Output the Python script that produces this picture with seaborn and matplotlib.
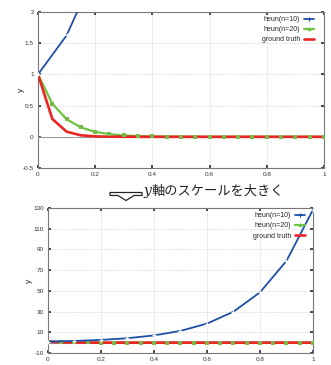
import numpy as np
import pandas as pd
import matplotlib
matplotlib.use("Agg")
import matplotlib.pyplot as plt
from matplotlib.patches import Polygon
import seaborn as sns

# x positions
x_n10 = [0.0, 0.1, 0.2, 0.3, 0.4, 0.5, 0.6, 0.7, 0.8, 0.9, 1.0]
x_n20 = [0.0, 0.05, 0.1, 0.15, 0.2, 0.25, 0.3, 0.35, 0.4, 0.45, 0.5,
         0.55, 0.6, 0.65, 0.7, 0.75, 0.8, 0.85, 0.9, 0.95, 1.0]

# series values
heun_n10 = [1.0, 1.625, 2.64, 4.29, 6.97, 11.33, 18.41, 29.92, 48.62, 79.01, 128.4]
heun_n20 = [1.0, 0.531, 0.282, 0.150, 0.080, 0.042, 0.022, 0.012, 0.006, 0.003, 0.002,
            0.001, 0.0, 0.0, 0.0, 0.0, 0.0, 0.0, 0.0, 0.0, 0.0]
truth = [1.0, 0.287, 0.082, 0.024, 0.007, 0.002, 0.001, 0.0, 0.0, 0.0, 0.0,
         0.0, 0.0, 0.0, 0.0, 0.0, 0.0, 0.0, 0.0, 0.0, 0.0]

labels = ["heun(n=10)", "heun(n=20)", "ground truth"]
colors = ["#1f4fa8", "#6cc440", "#ec2424"]

caption = "軸のスケールを大きく"

sns.set_theme(style="white")
plt.rcParams["font.family"] = ["Liberation Sans", "DejaVu Sans"]

d10 = pd.DataFrame({"x": x_n10, "y": heun_n10})
d20 = pd.DataFrame({"x": x_n20, "y": heun_n20})
dgt = pd.DataFrame({"x": x_n20, "y": truth})

fig = plt.figure(figsize=(3.31, 3.65), dpi=100)
ax1 = fig.add_axes([0.1148, 0.5397, 0.864, 0.4274])
ax2 = fig.add_axes([0.145, 0.0329, 0.8006, 0.397])


def draw(ax, ylim, yticks, label_xy, pad_right):
    ax.axhline(0, color="#999999", lw=0.8, zorder=1)
    sns.lineplot(data=d10, x="x", y="y", ax=ax, color=colors[0], lw=1.3,
                 linestyle="-", marker="+", markersize=3.5,
                 markeredgewidth=0.8, zorder=5)
    sns.lineplot(data=d20, x="x", y="y", ax=ax, color=colors[1], lw=1.6,
                 linestyle="-", zorder=2)
    sns.lineplot(data=dgt, x="x", y="y", ax=ax, color=colors[2], lw=1.9,
                 linestyle="-", zorder=3)
    sns.scatterplot(data=d20, x="x", y="y", ax=ax, color="#78b848", marker="s",
                    s=6, linewidth=0, zorder=4)
    ax.set_xlim(0, 1)
    ax.set_ylim(*ylim)
    ax.set_xticks([0, 0.2, 0.4, 0.6, 0.8, 1.0])
    ax.set_xticklabels(["0", "0.2", "0.4", "0.6", "0.8", "1"])
    ax.set_yticks(yticks)
    ax.set_yticklabels([("%g" % t) for t in yticks])
    ax.tick_params(labelsize=4.6, colors="#333333", length=2, direction="in",
                   pad=3, right=True, top=True, left=True, bottom=True)
    ax.grid(True, color="#cccccc", lw=0.5, linestyle=(0, (1, 1)))
    for s in ax.spines.values():
        s.set_color("#777777")
        s.set_linewidth(0.8)
    ax.set_xlabel("")
    ax.set_ylabel("y", fontsize=6)
    ax.yaxis.set_label_coords(*label_xy)

    handles = [
        plt.Line2D([], [], color=colors[0], lw=1.3, marker="+", markersize=3,
                   markeredgewidth=0.8),
        plt.Line2D([], [], color=colors[1], lw=1.6, marker="s", markersize=2),
        plt.Line2D([], [], color=colors[2], lw=1.9),
    ]
    ax.legend(handles, labels, loc="upper right", frameon=False,
              markerfirst=False, fontsize=5, handlelength=1.4,
              handletextpad=0.6, labelspacing=0.45,
              bbox_to_anchor=(1 - pad_right, 1.0), borderaxespad=0.2)


draw(ax1, (-0.5, 2.0), [-0.5, 0, 0.5, 1, 1.5, 2], (-0.045, 0.5), 0.02)
draw(ax2, (-10, 130), [-10, 10, 30, 50, 70, 90, 110, 130], (-0.055, 0.5), 0.015)

# caption with hollow down arrow
pts = np.array([[110, 192.5], [142, 192.5], [142, 195.5], [134, 195.5],
                [126, 200.5], [118, 195.5], [110, 195.5]])
pts = pts / [331, 365] * [1, -1] + [0, 1]
arrow = Polygon(pts, closed=True, fill=False, edgecolor="#222222", lw=0.9,
                transform=fig.transFigure)
fig.add_artist(arrow)
fig.text(144 / 331, 1 - 195 / 365, "y", fontsize=10, style="italic",
         family=["DejaVu Serif"], va="baseline", ha="left", color="#222222")
fig.text(152 / 331, 1 - 195 / 365, caption, fontsize=9.5,
         family=["Noto Sans CJK JP", "DejaVu Sans"], va="baseline", ha="left",
         color="#222222")

fig.savefig("out.png", dpi=100)
